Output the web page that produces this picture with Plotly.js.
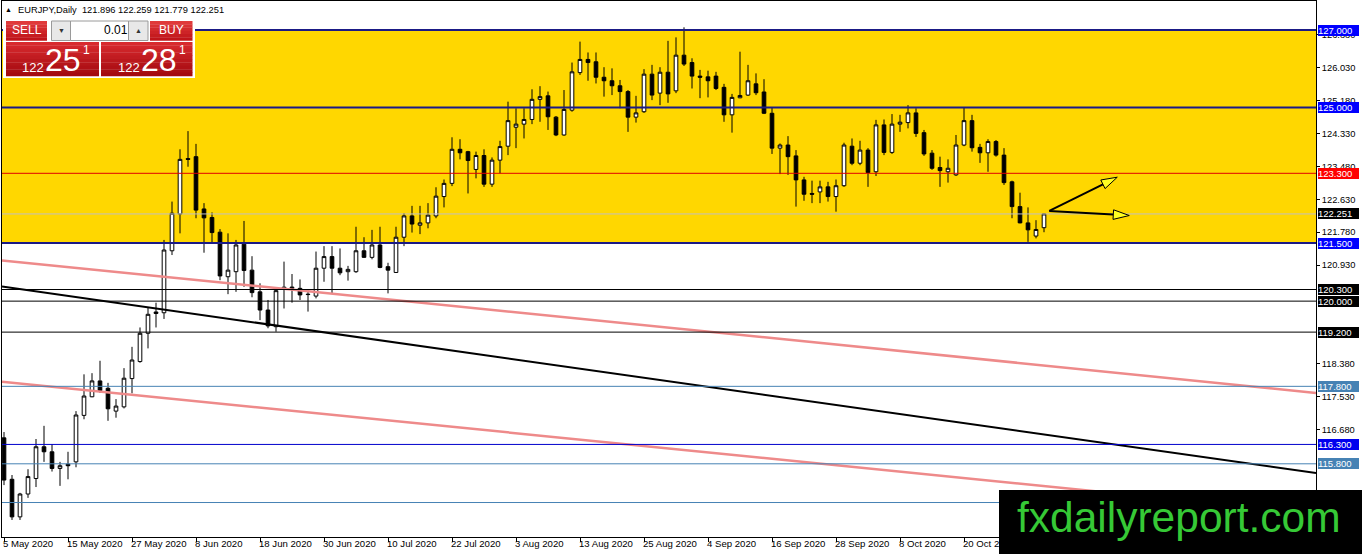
<!DOCTYPE html>
<html><head><meta charset="utf-8">
<script src="https://cdn.plot.ly/plotly-3.0.1.min.js"></script>
<style>html,body{margin:0;padding:0;background:#fff;overflow:hidden}#chart{width:1362px;height:554px}</style>
</head><body><div id="chart"></div>
<script>
// ---------------- DATA ----------------
const symbol = "EURJPY,Daily";
const open = [116.47,115.40,114.43,115.02,115.42,116.24,116.11,115.68,115.79,115.85,
117.05,117.53,117.94,117.75,117.16,117.27,118.00,118.44,119.17,119.72,
119.70,121.30,122.25,123.68,123.73,122.38,122.16,121.78,120.63,120.76,
121.47,120.80,120.24,119.77,119.34,120.30,120.33,120.33,120.18,120.13,
120.85,121.15,120.85,120.76,120.76,121.30,121.13,121.45,120.89,120.74,
121.65,122.20,121.96,122.02,122.20,122.70,123.04,123.92,123.86,123.40,
123.76,123.02,123.64,124.00,124.49,124.57,124.69,125.21,125.30,124.75,
124.29,124.93,125.90,126.24,126.18,125.78,125.69,125.56,125.41,124.75,
124.89,125.86,125.37,125.91,125.43,126.35,126.16,125.81,125.79,125.81,
125.52,124.81,125.25,125.32,125.61,125.40,124.85,123.95,124.03,123.75,
123.13,122.78,122.82,122.95,122.70,122.98,124.00,123.56,123.90,123.34,
124.55,123.84,124.57,124.61,124.86,124.35,123.82,123.45,123.34,123.26,
124.03,124.66,123.97,123.83,124.12,123.77,123.08,122.44,122.02,121.68,
121.896];
const high = [116.62,115.51,115.05,115.66,116.44,116.78,116.31,115.85,116.11,117.16,
118.11,118.14,118.46,117.89,117.47,118.27,118.82,119.32,119.84,119.96,
121.58,122.57,123.92,124.39,124.06,122.53,122.29,121.86,121.75,121.58,
122.07,121.16,120.46,120.03,120.33,121.02,120.70,120.56,120.29,121.28,
121.42,121.42,121.36,120.91,121.92,121.65,121.84,121.92,120.99,121.92,
122.27,122.46,122.46,122.53,122.94,123.14,124.23,124.18,123.88,123.86,
123.92,123.71,124.14,125.15,124.98,124.98,125.47,125.55,125.41,124.78,
125.45,126.16,126.70,126.42,126.42,126.04,126.01,125.71,125.45,125.30,
125.99,126.10,126.04,126.72,126.81,127.07,126.27,125.97,125.95,125.92,
125.61,125.35,126.44,126.10,125.88,125.73,125.00,124.07,124.26,123.90,
123.21,123.11,123.11,123.08,123.14,124.09,124.20,124.14,123.95,124.68,
124.69,124.83,124.81,125.06,124.98,124.42,123.90,123.73,123.66,124.29,
125.00,124.81,124.06,124.18,124.16,123.95,123.11,122.80,122.42,122.09,
122.259];
const low = [115.25,114.35,114.35,114.92,115.20,115.85,115.60,115.23,115.40,115.71,
116.95,117.52,117.63,116.91,116.99,117.23,117.62,118.41,118.78,119.32,
119.54,121.19,121.75,123.47,122.14,121.25,121.49,120.54,120.18,120.24,
120.37,120.10,119.51,119.30,119.21,119.81,119.96,120.03,119.73,120.07,
120.50,120.20,120.67,120.53,120.73,121.12,121.08,120.85,120.20,120.73,
121.42,121.77,121.73,121.88,122.14,122.42,122.97,123.66,122.78,123.17,
122.95,122.95,123.30,123.77,123.95,124.20,124.57,124.63,124.42,124.26,
124.27,124.89,125.84,125.69,125.62,125.28,125.32,124.98,124.37,124.61,
124.86,125.19,125.06,125.12,125.37,126.07,125.49,125.24,125.26,125.45,
124.63,124.35,125.24,125.30,125.32,124.83,123.80,123.28,123.26,122.44,
122.59,122.53,122.53,122.57,122.31,122.95,123.51,123.51,122.95,123.23,
123.77,123.80,124.37,124.46,124.24,123.75,123.39,122.95,123.06,123.23,
124.00,123.86,123.57,123.34,123.73,123.00,122.14,122.01,121.53,121.62,
121.779];
const close = [115.38,114.43,115.02,115.47,116.24,116.11,115.68,115.75,115.75,117.06,
117.55,117.94,117.69,117.22,117.29,118.01,118.48,119.17,119.66,119.68,
121.32,122.27,123.66,123.66,122.35,122.15,121.77,120.65,120.80,121.45,
120.79,120.22,119.77,119.36,120.27,120.36,120.36,120.16,120.17,120.85,
121.15,120.85,120.73,120.82,121.30,121.13,121.45,120.87,120.80,121.65,
122.20,121.99,122.02,122.22,122.71,123.04,123.92,123.83,123.63,123.76,
123.02,123.64,123.99,124.66,124.57,124.69,125.21,125.28,124.76,124.29,
124.95,125.92,126.24,126.16,125.78,125.69,125.56,125.41,124.75,124.86,
125.86,125.32,125.91,125.35,126.35,126.12,125.81,125.78,125.69,125.49,
124.81,125.26,125.31,125.69,125.38,124.85,123.95,124.03,123.73,123.13,
122.76,122.76,122.95,122.70,122.98,124.03,123.56,123.90,123.32,124.55,
123.84,124.57,124.62,124.86,124.33,123.80,123.43,123.37,123.43,124.03,
124.66,123.96,123.83,124.12,123.77,123.06,122.44,122.02,121.84,121.85,
122.251];

// date axis: bar index of each visible label and its text
const dateTickIdx = [0,8,16,24,32,40,48,56,64,72,80,88,96,104,112,120];
const dateLabels = ["5 May 2020","15 May 2020","27 May 2020","8 Jun 2020","18 Jun 2020","30 Jun 2020",
 "10 Jul 2020","22 Jul 2020","3 Aug 2020","13 Aug 2020","25 Aug 2020","4 Sep 2020","16 Sep 2020",
 "28 Sep 2020","8 Oct 2020","20 Oct 2020"];

// visible price-axis ticks
const priceTicks = [126.88,126.03,125.18,124.33,123.48,122.63,121.78,120.93,118.38,117.53,116.68];

// horizontal levels
const levels = [127.0,125.0,123.3,122.251,121.5,120.3,120.0,119.2,117.8,116.3,115.8,114.8];
const levelKinds = ["zone","zone","red","price","zone","black","black","black","steel","blue","steel","steel"];
const levelLabelShown = [true,true,true,true,true,true,true,true,true,true,true,false];
// zone band
const zoneBand = [121.5,127.0];

// trend lines [barIndex, price] pairs
const trendBlack = [[-0.25,120.375],[164,115.56]];
const trendPinkUpper = [[-0.25,121.05],[164,117.63]];
const trendPinkLower = [[-0.25,117.92],[164,114.52]];

// arrows: tail and heads [barIndex, price]
const arrowTail = [130.66,122.33];
const arrowHeads = [[139.16,123.20],[140.66,122.21]];

// trade panel
const lotSize = "0.01";
const sellQuote = ["122","25","1"];
const buyQuote = ["122","28","1"];
const watermark = "fxdailyreport.com";

// ---------------- LAYOUT ----------------
const W = 1362, H = 554;
const M = {l:2, r:46, t:1, b:17};
const plotW = W - M.l - M.r, plotH = H - M.t - M.b;
const xRange = [-0.25, 164];
const yRange = [113.91, 127.749];
const sx = plotW/(xRange[1]-xRange[0]);
const sy = plotH/(yRange[1]-yRange[0]);
const PX = px => (px - M.l)/plotW;
const PY = py => (M.t + plotH - py)/plotH;
const FONT = "Liberation Sans, Arial, sans-serif";

const idx = open.map((_, i) => i);

const kindStyle = {
  zone:  {line:'#1a1a86', w:2, box:'#0000ff'},
  red:   {line:'#e00000', w:1, box:'#ff0000'},
  price: {line:'#c0c0c0', w:1, box:'#000000'},
  black: {line:'#000000', w:1, box:'#000000'},
  steel: {line:'#4682b4', w:1, box:'#4682b4'},
  blue:  {line:'#0000cd', w:1, box:'#0000ee'}
};

const shapes = [];
const annotations = [];

// yellow zone
shapes.push({type:'rect', xref:'paper', yref:'y', x0:0, x1:1, y0:zoneBand[0], y1:zoneBand[1],
  fillcolor:'#ffd700', line:{width:0}, layer:'below'});

// pink / black trend lines
[[trendPinkUpper,'#ee8a8a',2.5],[trendPinkLower,'#ee8a8a',2.5],[trendBlack,'#000000',2]].forEach(([t,c,w]) => {
  shapes.push({type:'line', xref:'x', yref:'y', x0:t[0][0], y0:t[0][1], x1:t[1][0], y1:t[1][1],
    line:{color:c, width:w}});
});

// horizontal levels + right labels
levels.forEach((v, i) => {
  const st = kindStyle[levelKinds[i]];
  shapes.push({type:'line', xref:'paper', yref:'y', x0:0, x1:1, y0:v, y1:v, line:{color:st.line, width:st.w}});
  if (!levelLabelShown[i]) return;
  annotations.push({xref:'paper', yref:'y', x:1, y:v, xanchor:'left', yanchor:'middle', xshift:1.5,
    text:v.toFixed(3), showarrow:false, bgcolor:st.box, borderpad:0, borderwidth:0,
    width:41, height:11, align:'left', font:{family:FONT, size:9.5, color:'#ffffff'}});
});

// arrows
arrowHeads.forEach(h => {
  const dxp = (h[0]-arrowTail[0])*sx, dyp = (h[1]-arrowTail[1])*sy;
  const len = Math.hypot(dxp, dyp), ux = dxp/len, uy = dyp/len;
  const L = 16, Wd = 4.8;
  const bx = h[0] - ux*L/sx, by = h[1] - uy*L/sy;
  const p1 = [bx - uy*Wd/sx, by + ux*Wd/sy], p2 = [bx + uy*Wd/sx, by - ux*Wd/sy];
  shapes.push({type:'line', xref:'x', yref:'y', x0:arrowTail[0], y0:arrowTail[1], x1:bx, y1:by,
    line:{color:'#000', width:2}});
  shapes.push({type:'path', xref:'x', yref:'y',
    path:`M${h[0]},${h[1]} L${p1[0]},${p1[1]} L${p2[0]},${p2[1]} Z`,
    fillcolor:'#ffff22', line:{color:'#000', width:1}});
});

// trade panel
function prect(x0,y0,x1,y1,fill,lineColor){
  shapes.push({type:'rect', xref:'paper', yref:'paper', x0:PX(x0), x1:PX(x1), y0:PY(y1), y1:PY(y0),
    fillcolor:fill, line: lineColor ? {color:lineColor, width:1} : {width:0}, layer:'above'});
}
function gradRect(x0,y0,x1,y1,cTop,cBot,n){
  const a = cTop.match(/\w\w/g).map(h=>parseInt(h,16)), b = cBot.match(/\w\w/g).map(h=>parseInt(h,16));
  for (let k=0;k<n;k++){
    const f = k/(n-1);
    const c = 'rgb('+a.map((v,j)=>Math.round(v+(b[j]-v)*f)).join(',')+')';
    prect(x0, y0+(y1-y0)*k/n, x1, y0+(y1-y0)*(k+1)/n + 0.3, c);
  }
}
prect(3,19,195,78,'#ffffff');
gradRect(6,21,47,40.5,'e03a3a','c0141a',6);
prect(51.5,21,70.5,40.5,'#e8e8e8','#9a9a9a');
prect(70.5,21,128.5,40.5,'#ffffff','#9a9a9a');
prect(128.5,21,148,40.5,'#e8e8e8','#9a9a9a');
gradRect(150,21,192.5,40.5,'e03a3a','c0141a',6);
gradRect(6,42,99,76,'d82a2e','a40a10',10);
gradRect(101,42,192.5,76,'d82a2e','a40a10',10);

function ptext(px,py,txt,size,color,xanchor,family){
  annotations.push({xref:'paper', yref:'paper', x:PX(px), y:PY(py), xanchor:xanchor||'center', yanchor:'middle',
    text:txt, showarrow:false, borderpad:0, borderwidth:0,
    font:{family:family||FONT, size:size, color:color}});
}
ptext(26.5,30.5,'SELL',12,'#ffffff');
ptext(171,30.5,'BUY',12,'#ffffff');
ptext(127.5,30.5,lotSize,12,'#000000','right');
ptext(61,30.5,'▼',7,'#333333');
ptext(138.3,30.5,'▲',7,'#333333');
ptext(22,67.5,sellQuote[0],13,'#ffffff','left');
ptext(45,59.5,sellQuote[1],32,'#ffffff','left');
ptext(82.5,50.5,sellQuote[2],12,'#ffffff','left');
ptext(117.5,67.5,buyQuote[0],13,'#ffffff','left');
ptext(140.5,59.5,buyQuote[1],32,'#ffffff','left');
ptext(178.5,50.5,buyQuote[2],12,'#ffffff','left');

// header
const last = open.length-1;
ptext(8,10,'▲',7,'#000000');
ptext(17.5,10, symbol+'\u00a0\u00a0'+[open[last],high[last],low[last],close[last]].map(v=>v.toFixed(3)).join(' '),
  9.3,'#000000','left');

// date labels
dateTickIdx.forEach((t,i) => {
  annotations.push({xref:'x', yref:'paper', x:t, y:0, xanchor:'left', yanchor:'top', xshift:-1.5, yshift:-1,
    text:dateLabels[i], showarrow:false, borderpad:0, borderwidth:0,
    font:{family:FONT, size:9.6, color:'#000'}});
});

// watermark (drawn last, on top)
annotations.push({xref:'paper', yref:'paper', x:PX(999.3), y:PY(490), xanchor:'left', yanchor:'top',
  text:'\u00a0', showarrow:false, bgcolor:'#000000', borderpad:0, borderwidth:0,
  width:363, height:64, font:{family:FONT, size:10, color:'#000'}});
ptext(1016.5,517,watermark,42.5,'#36c936','left');

const trace = {
  type:'candlestick', x:idx, open:open, high:high, low:low, close:close,
  increasing:{line:{color:'#000', width:1}, fillcolor:'#ffffff'},
  decreasing:{line:{color:'#000', width:1}, fillcolor:'#000000'},
  whiskerwidth:0, hoverinfo:'skip', showlegend:false
};

const layout = {
  width:W, height:H, margin:M, paper_bgcolor:'#ffffff', plot_bgcolor:'#ffffff',
  showlegend:false, hovermode:false, boxgap:0.35,
  xaxis:{range:xRange, type:'linear', tickvals:dateTickIdx, showticklabels:false, ticks:'outside', ticklen:4,
    tickcolor:'#000', showgrid:false, zeroline:false, showline:true, linecolor:'#000', linewidth:1, mirror:true,
    rangeslider:{visible:false}, fixedrange:true},
  yaxis:{range:yRange, side:'right', tickvals:priceTicks, tickformat:'.3f', ticks:'outside', ticklen:3,
    tickcolor:'#000', showgrid:false, zeroline:false, showline:true, linecolor:'#000', linewidth:1, mirror:true,
    tickfont:{family:FONT, size:9.3, color:'#000'}, fixedrange:true},
  shapes:shapes, annotations:annotations
};

Plotly.newPlot('chart', [trace], layout, {displayModeBar:false, staticPlot:true});
</script>
</body></html>
